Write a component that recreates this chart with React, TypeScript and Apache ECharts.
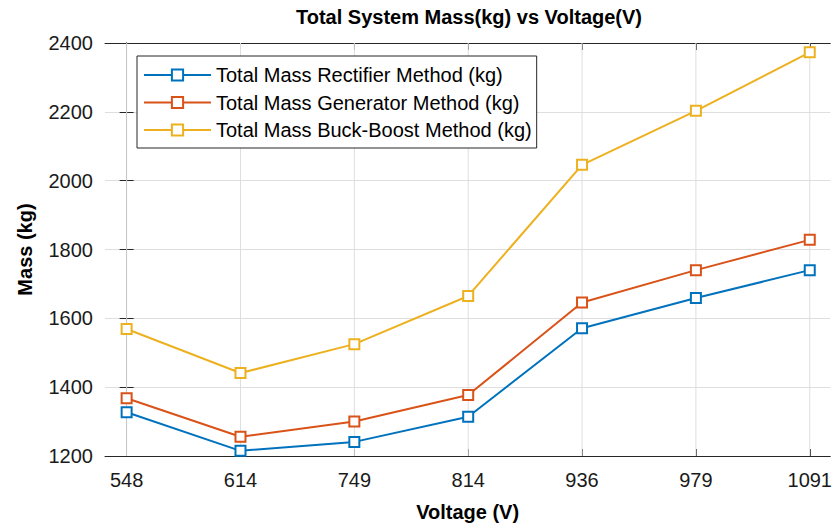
import React, { useEffect, useRef } from "react";
import * as echarts from "echarts";

const voltages = ["548", "614", "749", "814", "936", "979", "1091"];
const rectifierMass = [1327, 1215, 1241, 1314, 1571, 1659, 1740];
const generatorMass = [1368, 1256, 1300, 1377, 1646, 1740, 1828];
const buckBoostMass = [1569, 1441, 1525, 1665, 2046, 2203, 2373];
const seriesNames = [
  "Total Mass Rectifier Method (kg)",
  "Total Mass Generator Method (kg)",
  "Total Mass Buck-Boost Method (kg)",
];
const seriesColors = ["#0072BD", "#D95319", "#EDB120"];

const FONT = "'Liberation Sans', Arial, Helvetica, sans-serif";
const Y_MIN = 1200;
const Y_MAX = 2400;

export default function App() {
  const ref = useRef<HTMLDivElement>(null);
  useEffect(() => {
    if (!ref.current) return;
    const chart = echarts.init(ref.current, null, { renderer: "svg" });
    const idx = voltages.map((_, i) => i);
    const mk = (name: string, vals: number[], color: string) => ({
      name,
      type: "line",
      data: vals.map((v, i) => [i, v]),
      symbol: "emptyRect",
      symbolSize: 10,
      showSymbol: true,
      z: 3,
      lineStyle: { color, width: 2 },
      itemStyle: { color, borderColor: color, borderWidth: 2 },
      emphasis: { disabled: true },
    });
    const axisLineStyle = { color: "#262626", width: 1 };
    chart.setOption({
      animation: false,
      textStyle: { fontFamily: FONT },
      title: {
        text: "Total System Mass(kg) vs Voltage(V)",
        left: 469,
        top: 7,
        padding: 0,
        textAlign: "center",
        textStyle: { fontFamily: FONT, fontSize: 20, fontWeight: "bold", color: "#000" },
      },
      legend: {
        orient: "vertical",
        left: 137,
        top: 56,
        padding: [9, 5, 8, 6],
        itemWidth: 67,
        itemHeight: 14,
        itemGap: 7.5,
        borderColor: "#262626",
        borderWidth: 1,
        backgroundColor: "#fff",
        textStyle: { fontFamily: FONT, fontSize: 20, color: "#000", lineHeight: 20 },
        data: seriesNames,
      },
      grid: { left: 105, right: 2, top: 43, bottom: 75, containLabel: false },
      xAxis: [
        {
          type: "value",
          min: -0.19,
          max: 6.18,
          name: "Voltage (V)",
          nameLocation: "middle",
          nameGap: 46,
          nameTextStyle: { fontFamily: FONT, fontSize: 20, fontWeight: "bold", color: "#000" },
          axisLine: { show: true, lineStyle: axisLineStyle },
          axisTick: { show: true, inside: true, length: 7, lineStyle: axisLineStyle, customValues: idx },
          axisLabel: {
            customValues: idx,
            margin: 14,
            fontFamily: FONT,
            fontSize: 20,
            color: "#1a1a1a",
            formatter: (v: number) => voltages[Math.round(v)] ?? "",
          },
          splitLine: { show: false },
        },
        {
          type: "value",
          position: "top",
          min: -0.19,
          max: 6.18,
          axisLine: { show: true, lineStyle: axisLineStyle },
          axisTick: { show: true, inside: true, length: 7, lineStyle: axisLineStyle, customValues: idx },
          axisLabel: { show: false, customValues: idx },
          splitLine: { show: false },
        },
      ],
      yAxis: [
        {
          type: "value",
          min: Y_MIN,
          max: Y_MAX,
          interval: 200,
          name: "Mass (kg)",
          nameLocation: "middle",
          nameGap: 70,
          nameTextStyle: { fontFamily: FONT, fontSize: 20, fontWeight: "bold", color: "#000" },
          axisLine: { show: true, lineStyle: axisLineStyle },
          axisTick: { show: true, inside: true, length: 7, lineStyle: axisLineStyle },
          axisLabel: {
            margin: 12,
            fontFamily: FONT,
            fontSize: 20,
            color: "#1a1a1a",
            formatter: (v: number) => String(v),
          },
          splitLine: { show: true, lineStyle: { color: "#dedede", width: 1 } },
        },
        {
          type: "value",
          position: "right",
          min: Y_MIN,
          max: Y_MAX,
          interval: 200,
          axisLine: { show: true, lineStyle: axisLineStyle },
          axisTick: { show: true, inside: true, length: 7, lineStyle: axisLineStyle },
          axisLabel: { show: false },
          splitLine: { show: false },
        },
      ],
      series: [
        {
          type: "custom",
          name: "xgrid",
          silent: true,
          z: 1,
          data: idx,
          renderItem: (_params: any, api: any) => {
            const i = api.value(0);
            const p0 = api.coord([i, Y_MIN]);
            const p1 = api.coord([i, Y_MAX]);
            return {
              type: "line",
              shape: { x1: p0[0], y1: p0[1], x2: p1[0], y2: p1[1] },
              style: { stroke: "#dedede", lineWidth: 1 },
            };
          },
          encode: { x: 0 },
        },
        mk(seriesNames[0], rectifierMass, seriesColors[0]),
        mk(seriesNames[1], generatorMass, seriesColors[1]),
        mk(seriesNames[2], buckBoostMass, seriesColors[2]),
      ],
    });
    return () => chart.dispose();
  }, []);
  return (
    <div
      ref={ref}
      style={{ position: "fixed", left: 0, top: 0, width: 835, height: 531, background: "#fff" }}
    />
  );
}
